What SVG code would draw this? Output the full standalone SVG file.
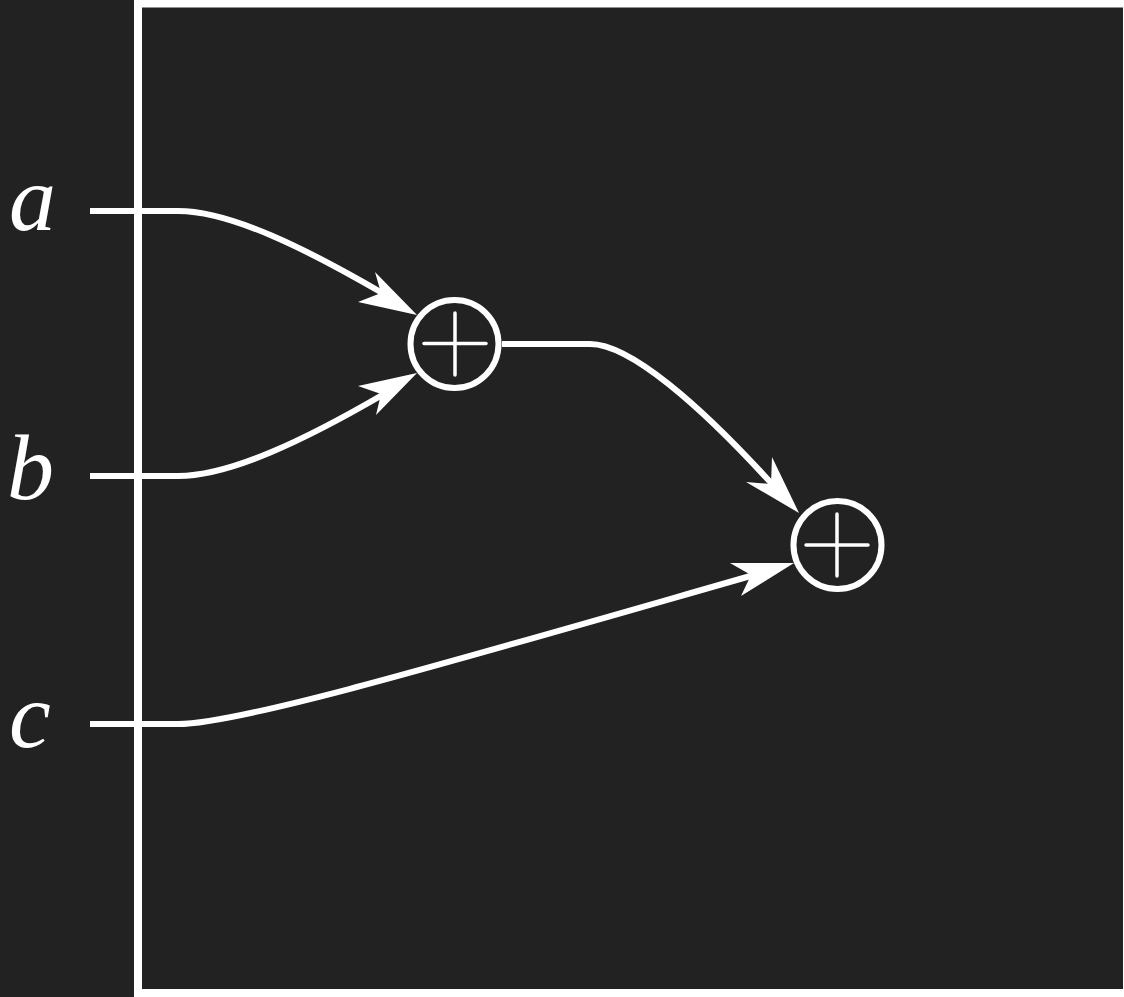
<svg xmlns="http://www.w3.org/2000/svg" width="1124" height="997" viewBox="0 0 1124 997">
  <style>
    .wire { fill: none; stroke: #ffffff; stroke-width: 6; stroke-linecap: butt; stroke-linejoin: round; }
    .ring { fill: none; stroke: #ffffff; stroke-width: 6; }
    .plus { stroke: #ffffff; stroke-width: 3.5; stroke-linecap: round; }
    .head { fill: #ffffff; }
    .lbl { font-family: "Liberation Serif", "DejaVu Serif", serif; font-style: italic; font-size: 94px; fill: #ffffff; }
  </style>
  <rect x="0" y="0" width="1124" height="997" fill="#222222"/>
  <rect x="134" y="0" width="990" height="997" fill="#ffffff"/>
  <rect x="142" y="7.5" width="981" height="981.5" fill="#222222"/>

  <g id="labels">
    <text id="label-a" class="lbl" x="9" y="230">a</text>
    <text id="label-b" class="lbl" x="7" y="499">b</text>
    <text id="label-c" class="lbl" x="9" y="747">c</text>
  </g>

  <g id="connectors">
    <path class="wire" d="M 90 211 L 178 211 C 230 211 305 248 384 294"/>
    <polygon class="head" points="417,315 375,272 381,293 358,302"/>
    <path class="wire" d="M 90 476 L 178 476 C 230 476 305 440 384 394"/>
    <polygon class="head" points="417,373 358,386 381,394 376,415"/>
    <path class="wire" d="M 502 344 L 590 344 C 630 344 700 405 772 484"/>
    <polygon class="head" points="799,513 772,457 771,484 746,482"/>
    <path class="wire" d="M 90 724 L 178 724 C 240 724 450 662 754 575"/>
    <polygon class="head" points="794,563 730,563 751,575 741,596"/>
  </g>

  <g id="sum1">
    <circle class="ring" cx="454.5" cy="344" r="44"/>
    <line class="plus" x1="424" y1="343.5" x2="486" y2="343.5"/>
    <line class="plus" x1="455" y1="313" x2="455" y2="375"/>
  </g>
  <g id="sum2">
    <circle class="ring" cx="837.5" cy="545" r="44"/>
    <line class="plus" x1="806" y1="545" x2="868" y2="545"/>
    <line class="plus" x1="837" y1="514" x2="837" y2="576"/>
  </g>
</svg>
